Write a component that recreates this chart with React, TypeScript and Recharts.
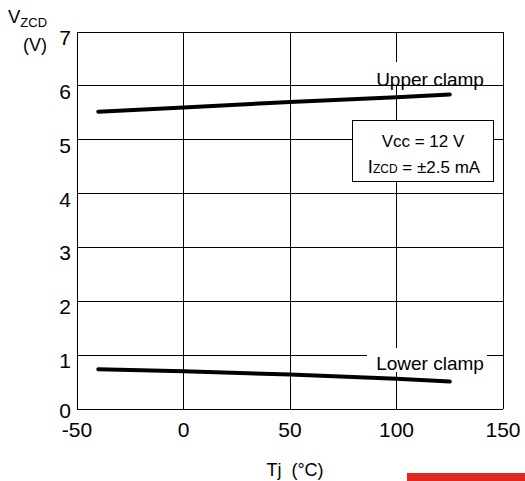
import { LineChart, Line, XAxis, YAxis, CartesianGrid } from "recharts";

// junction temperature (°C)
const temps = [-40, 0, 50, 100, 125];
// V_ZCD clamp voltages (V)
const upperClamp = [5.52, 5.6, 5.7, 5.79, 5.84];
const lowerClamp = [0.74, 0.7, 0.64, 0.56, 0.51];

const xTicks = [-50, 0, 50, 100, 150];
const yTicks = [0, 1, 2, 3, 4, 5, 6, 7];

const data = temps.map((t, i) => ({
  temp: t,
  upper: upperClamp[i],
  lower: lowerClamp[i],
}));

const FONT = "'Liberation Sans', Arial, Helvetica, sans-serif";

const XTick = ({ x, y, payload }: any) => (
  <text x={x} y={y + 28} textAnchor="middle" fontSize={21} fill="#000" fontFamily={FONT}>
    {payload.value}
  </text>
);

// the 0 label sits a bit higher so it clears the -50 below it
const YTick = ({ x, y, payload }: any) => (
  <text
    x={x - 6}
    y={y + (payload.value === 0 ? 9 : 13)}
    textAnchor="end"
    fontSize={21}
    fill="#000"
    fontFamily={FONT}
  >
    {payload.value}
  </text>
);

export default function App() {
  return (
    <div
      style={{
        position: "absolute",
        left: 0,
        top: 0,
        width: 525,
        height: 481,
        background: "#fff",
        fontFamily: FONT,
        overflow: "hidden",
      }}
    >
      <LineChart
        width={525}
        height={481}
        data={data}
        margin={{ top: 32, right: 22, bottom: 0, left: 0 }}
      >
        <CartesianGrid stroke="#000" strokeWidth={1} shapeRendering="crispEdges" />
        <XAxis
          dataKey="temp"
          type="number"
          domain={[-50, 150]}
          ticks={xTicks}
          height={72}
          axisLine={false}
          tickLine={false}
          tickSize={0}
          tickMargin={0}
          tick={<XTick />}
          interval={0}
        />
        <YAxis
          type="number"
          domain={[0, 7]}
          ticks={yTicks}
          width={77}
          axisLine={false}
          tickLine={false}
          tickSize={0}
          tickMargin={0}
          tick={<YTick />}
          interval={0}
        />
        <Line
          dataKey="upper"
          stroke="#000"
          strokeWidth={4}
          dot={false}
          strokeLinecap="round"
          isAnimationActive={false}
        />
        <Line
          dataKey="lower"
          stroke="#000"
          strokeWidth={4}
          dot={false}
          strokeLinecap="round"
          isAnimationActive={false}
        />
      </LineChart>

      {/* annotations & axis titles */}
      <svg
        width={525}
        height={481}
        style={{ position: "absolute", left: 0, top: 0, pointerEvents: "none" }}
        fontFamily={FONT}
      >
        <text x={8} y={23} fontSize={18.5} fill="#000">
          V<tspan fontSize={13} dy={4}>ZCD</tspan>
        </text>
        <text x={35} y={51} fontSize={18} fill="#000" textAnchor="middle">
          (V)
        </text>

        <text x={295} y={476} fontSize={18} fill="#000" textAnchor="middle" style={{ whiteSpace: "pre" }}>
          {"Tj  (°C)"}
        </text>

        <rect x={367} y={62} width={120} height={23} fill="#fff" />
        <text x={430} y={86} fontSize={19} fill="#000" textAnchor="middle">
          Upper clamp
        </text>

        <rect x={367} y={348} width={120} height={24} fill="#fff" />
        <text x={430} y={370} fontSize={19} fill="#000" textAnchor="middle">
          Lower clamp
        </text>

        <rect
          x={352}
          y={120}
          width={141}
          height={61}
          fill="#fff"
          stroke="#000"
          strokeWidth={1}
          shapeRendering="crispEdges"
        />
        <text x={423} y={147} fontSize={17} fill="#000" textAnchor="middle">
          Vcc = 12 V
        </text>
        <text x={424} y={173} fill="#000" textAnchor="middle">
          <tspan fontSize={18.5}>I</tspan>
          <tspan fontSize={12}>ZCD</tspan>
          <tspan fontSize={17}> = ±2.5 mA</tspan>
        </text>
      </svg>

      <div
        style={{
          position: "absolute",
          left: 407,
          top: 473,
          width: 118,
          height: 8,
          background: "#e0281e",
        }}
      />
    </div>
  );
}
